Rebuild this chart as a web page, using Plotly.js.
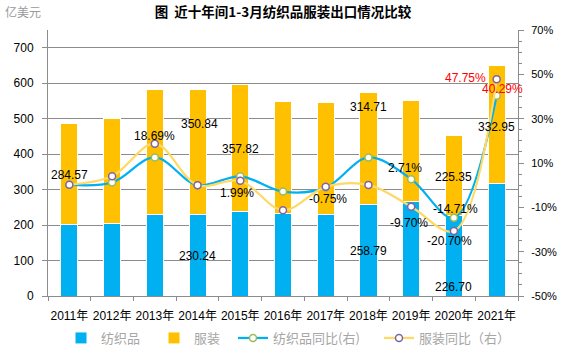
<!DOCTYPE html>
<html>
<head>
<meta charset="utf-8">
<script src="https://cdn.plot.ly/plotly-3.0.1.min.js"></script>
<style>html,body{margin:0;padding:0;background:#fff;}#chart{width:567px;height:348px;}</style>
</head>
<body>
<div id="chart"></div>
<script>
const years = ['2011年','2012年','2013年','2014年','2015年','2016年','2017年','2018年','2019年','2020年','2021年'];
const textile = [201, 204, 230, 230.24, 239.5, 232.3, 230, 258.79, 265.8, 226.70, 318.0];
const apparel = [284.57, 296, 351, 350.84, 357.82, 316.7, 314.3, 314.71, 284.2, 225.35, 332.95];
const textileYoY = [0.2, 1.2, 12.5, 0, 4.0, -2.9, -1.1, 12.5, 2.71, -14.71, 40.29];
const apparelYoY = [0.2, 4.0, 18.69, 0, 1.99, -11.3, -0.75, 0.13, -9.70, -20.70, 47.75];
const seriesNames = ['纺织品', '服装', '纺织品同比(右)', '服装同比（右）'];
const pctTicks = [-50, -30, -10, 10, 30, 50, 70];
const pctTickText = pctTicks.map(v => v + '%');

const numFont = 'Liberation Sans, Arial, Noto Sans CJK SC, sans-serif';
const cjkFont = 'Noto Sans CJK SC, sans-serif';
const grid = '#8c8c8c';

const traces = [
  {type:'bar', name:seriesNames[0], legend:'legend', x:years, y:textile, marker:{color:'#00B0F0', line:{color:'#ffffff', width:1}}, hoverinfo:'skip'},
  {type:'bar', name:seriesNames[1], legend:'legend2', x:years, y:apparel, marker:{color:'#FFC000', line:{color:'#ffffff', width:1}}, hoverinfo:'skip'},
  {type:'scatter', mode:'lines+markers', name:seriesNames[2], legend:'legend3', x:years, y:textileYoY, yaxis:'y2',
   line:{color:'#00B0F0', width:2.25, shape:'spline', smoothing:1},
   marker:{symbol:'circle', size:7, color:'#ffffff', line:{color:'#9BBB59', width:1.5}}},
  {type:'scatter', mode:'lines+markers', name:seriesNames[3], legend:'legend4', x:years, y:apparelYoY, yaxis:'y2',
   line:{color:'#FFD966', width:2.25, shape:'spline', smoothing:1},
   marker:{symbol:'circle', size:7, color:'#ffffff', line:{color:'#8064A2', width:1.5}}}
];

const total = textile.map((t, i) => t + apparel[i]);
const ann = [];
function barLabel(val, anchor, i, dx, dy) {
  ann.push({xref:'x', yref:'y', x:years[i], y:anchor, text:val.toFixed(2), showarrow:false,
    xshift:dx, yshift:dy, font:{family:numFont, size:12, color:'#000'}});
}
function pctLabel(arr, i, dx, dy, color) {
  ann.push({xref:'x', yref:'y2', x:years[i], y:arr[i], text:arr[i].toFixed(2)+'%', showarrow:false,
    xshift:dx, yshift:dy, font:{family:numFont, size:12, color:color || '#000'}});
}
barLabel(apparel[0], total[0], 0, 0, -51.6);
barLabel(apparel[3], total[3], 3, 2, -34.3);
barLabel(apparel[4], total[4], 4, 0, -65);
barLabel(apparel[7], total[7], 7, 0, -14.6);
barLabel(apparel[9], total[9], 9, 0, -41.7);
barLabel(apparel[10], total[10], 10, 0, -62);
barLabel(textile[3], textile[3], 3, 0, -41.4);
barLabel(textile[7], textile[7], 7, 0, -46.4);
barLabel(textile[9], textile[9], 9, 0, -71.1);
pctLabel(apparelYoY, 2, 0, 8);
pctLabel(apparelYoY, 4, -3, -12);
pctLabel(apparelYoY, 6, 2, -12);
pctLabel(textileYoY, 8, -6, 11);
pctLabel(apparelYoY, 8, -2, -16);
pctLabel(textileYoY, 9, 2, 9);
pctLabel(apparelYoY, 9, -4, -10);
pctLabel(apparelYoY, 10, -31, 1, '#FF0000');
pctLabel(textileYoY, 10, 6, 7, '#FF0000');

ann.push({xref:'paper', yref:'paper', x:-0.095, y:1.068, xanchor:'left', yanchor:'middle', text:'亿美元',
  showarrow:false, font:{family:cjkFont, size:12, color:'#999999'}});

function legendAt(px) {
  return {orientation:'h', xref:'container', yref:'container', x:px/567, xanchor:'left', y:10/348, yanchor:'middle',
    font:{family:cjkFont, size:13, color:'#a6a6a6'}, itemwidth:30, bgcolor:'rgba(0,0,0,0)', borderwidth:0};
}

const layout = {
  width:567, height:348,
  margin:{l:48, r:49, t:30, b:52, pad:0, autoexpand:false},
  paper_bgcolor:'#ffffff', plot_bgcolor:'#ffffff',
  barmode:'stack', bargap:0.6,
  showlegend:true,
  title:{text:'<b>图  近十年间1-3月纺织品服装出口情况比较</b>', x:0.5, xref:'paper', y:0.965, yref:'container', yanchor:'middle',
    font:{family:cjkFont, size:13.5, color:'#000'}},
  xaxis:{type:'category', showline:true, linecolor:grid, linewidth:1, ticks:'outside', tickson:'boundaries',
    ticklen:4, tickcolor:grid, tickangle:0, ticklabelstandoff:9, tickfont:{family:numFont, size:12, color:'#000'}, showgrid:false,
    range:[-0.5, 10.5], fixedrange:true, automargin:false},
  yaxis:{range:[0,750], tickvals:[0,100,200,300,400,500,600,700], showgrid:true, gridcolor:grid, gridwidth:1,
    showline:true, linecolor:grid, linewidth:1, ticks:'outside', ticklen:5, tickcolor:grid, ticklabelstandoff:6,
    tickfont:{family:numFont, size:12, color:'#000'}, zeroline:false, automargin:false},
  yaxis2:{overlaying:'y', side:'right', range:[-50,70], tickmode:'array', tickvals:pctTicks, ticktext:pctTickText,
    showgrid:false, zeroline:false, showline:true, linecolor:grid, linewidth:1, ticks:'outside', ticklen:5, tickcolor:grid,
    minor:{tickmode:'array', tickvals:[-45,-40,-35,-25,-20,-15,-5,0,5,15,20,25,35,40,45,55,60,65], ticks:'outside', ticklen:3, tickcolor:grid, showgrid:false},
    ticklabelstandoff:5, tickfont:{family:numFont, size:11, color:'#000'}, automargin:false},
  legend:legendAt(61),
  legend2:legendAt(154),
  legend3:legendAt(233),
  legend4:legendAt(379),
  annotations:ann
};

Plotly.newPlot('chart', traces, layout, {staticPlot:true, displayModeBar:false});
</script>
</body>
</html>
